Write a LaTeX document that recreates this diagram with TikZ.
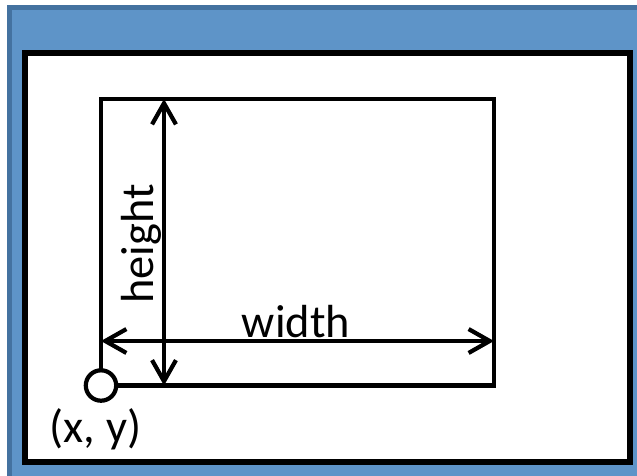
\documentclass[tikz,border=0pt]{standalone}
\usepackage{fontspec}
\setmainfont{Carlito}
\usetikzlibrary{arrows.meta}

\definecolor{frameblue}{RGB}{94,148,200}
\definecolor{frameedge}{RGB}{68,114,160}

\begin{document}
\begin{tikzpicture}[x=0.025cm, y=-0.025cm,
    boxline/.style={draw=black, line width=3.2pt},
    dimarrow/.style={line width=2.2pt, {Straight Barb[length=15pt, width=17pt, line width=3pt]}-{Straight Barb[length=15pt, width=17pt, line width=3pt]}},
    label/.style={inner sep=0pt, font=\fontsize{33}{39}\selectfont}]

    \useasboundingbox (0,0) rectangle (637,475);

    % Window frame
    \fill[white] (0,0) rectangle (637,475);
    \draw[fill=frameblue, draw=frameedge, line width=3.5pt] (9.5,7.5) rectangle (645,485);
    \draw[fill=white, draw=black, line width=3.6pt] (25,53) rectangle (630,462);

    % Rectangle corners
    \coordinate (origin) at (101,385.5);
    \coordinate (corner) at (494,99);
    \draw[boxline] (origin) rectangle (corner);

    % Dimension ends
    \coordinate (hbot) at (164,385.5);
    \coordinate (htop) at (164,99);
    \coordinate (wleft) at (101,341);
    \coordinate (wright) at (494,341);

    % Arrows
    \draw[dimarrow] (hbot) -- (htop);
    \draw[dimarrow] (wleft) -- (wright);

    % Anchor point
    \node[circle, draw, fill=white, line width=3pt, minimum size=0.76cm, inner sep=0pt] (pt) at (origin) {};

    % Labels
    \node[label, rotate=90, anchor=base] (hlabel) at (153,244) {height};
    \node[label, anchor=base] (wlabel) at (296,337) {width};
    \node[label, anchor=base] (ptlabel) at (95.5,442) {(x, y)};

\end{tikzpicture}
\end{document}
